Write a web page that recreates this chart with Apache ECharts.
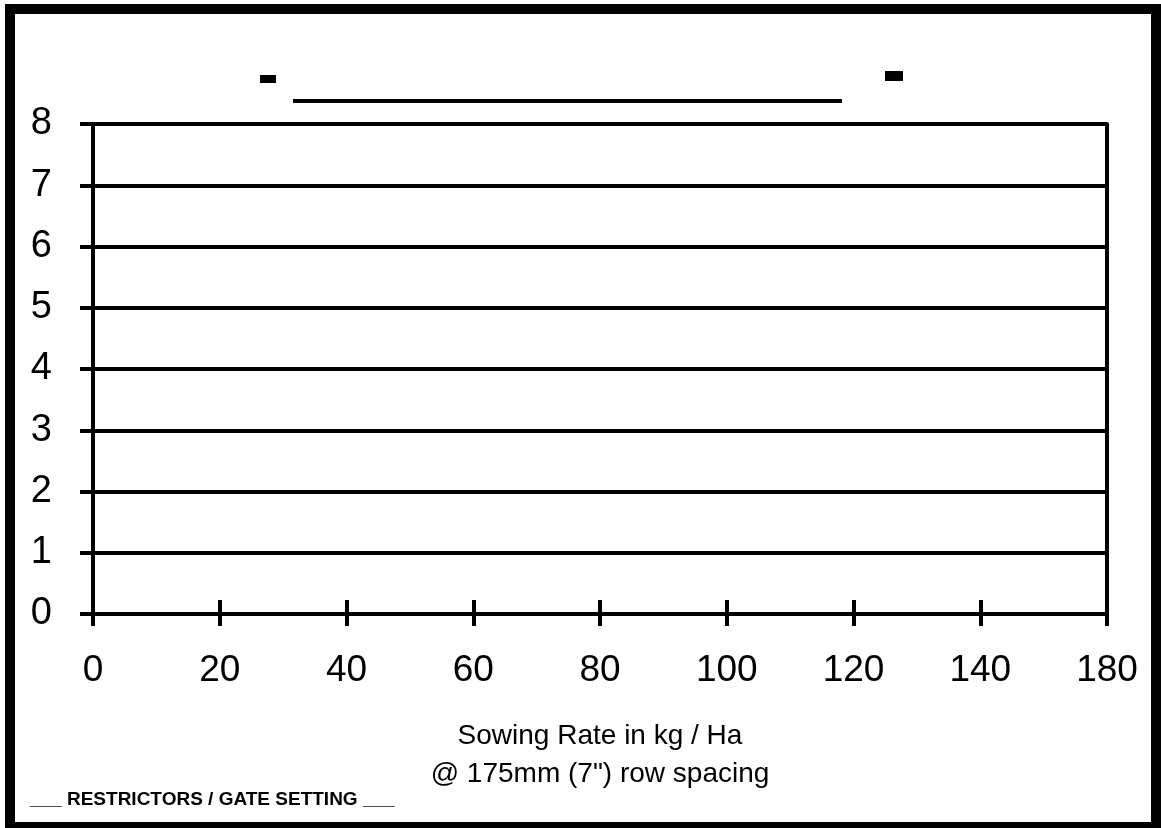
<!DOCTYPE html>
<html>
<head>
<meta charset="utf-8">
<script src="https://cdn.jsdelivr.net/npm/echarts@6/dist/echarts.min.js"></script>
<style>
  html, body { margin: 0; padding: 0; background: #fff; }
  #chart { width: 1161px; height: 828px; }
</style>
</head>
<body>
<div id="chart"></div>
<script>
// blank calibration sheet: axes only, no plotted values
const rateLabels = ["0", "20", "40", "60", "80", "100", "120", "140", "180"];
const settingMin = 0;
const settingMax = 8;
const settingStep = 1;
const readings = []; // left empty on the printed form
const axisName = "Sowing Rate in kg / Ha\n@ 175mm (7\") row spacing";
const footNote = "___ RESTRICTORS / GATE SETTING ___";

const font = "Liberation Sans, Arial, sans-serif";
const ink = "#000";

const chart = echarts.init(document.getElementById("chart"));
const option = {
  backgroundColor: "#fff",
  animation: false,
  grid: { left: 93, right: 54, top: 124, bottom: 214 },
  xAxis: [
    {
      type: "category",
      data: rateLabels,
      boundaryGap: false,
      axisLine: { show: true, lineStyle: { color: ink, width: 4 } },
      axisTick: { show: true, length: 12, lineStyle: { color: ink, width: 4 } },
      axisLabel: { color: ink, fontSize: 37, fontFamily: font, margin: 38, interval: 0 },
      splitLine: { show: false },
      name: axisName,
      nameLocation: "middle",
      nameGap: 103,
      nameTextStyle: { color: ink, fontSize: 28, fontFamily: font, lineHeight: 38 },
    },
    {
      type: "category",
      data: rateLabels,
      boundaryGap: false,
      position: "bottom",
      axisLine: { show: false },
      axisTick: { show: true, inside: true, length: 14, lineStyle: { color: ink, width: 4 } },
      axisLabel: { show: false },
      splitLine: { show: false },
    },
  ],
  yAxis: [
    {
      type: "value",
      min: settingMin,
      max: settingMax,
      interval: settingStep,
      axisLine: { show: true, lineStyle: { color: ink, width: 4 } },
      axisTick: { show: true, length: 13, lineStyle: { color: ink, width: 4 } },
      axisLabel: { color: ink, fontSize: 38, fontFamily: font, margin: 41, padding: [8, 0, 0, 0] },
      splitLine: { show: true, showMinLine: true, showMaxLine: true, lineStyle: { color: ink, width: 4 } },
    },
    {
      type: "value",
      position: "right",
      min: settingMin,
      max: settingMax,
      interval: settingStep,
      axisLine: { show: true, lineStyle: { color: ink, width: 4 } },
      axisTick: { show: false },
      axisLabel: { show: false },
      splitLine: { show: false },
    },
  ],
  series: [
    { type: "line", xAxisIndex: 0, yAxisIndex: 0, data: readings, symbol: "none" },
  ],
  graphic: [
    {
      type: "rect",
      shape: { x: 10, y: 9, width: 1146, height: 818 },
      style: { fill: null, stroke: ink, lineWidth: 10 },
      silent: true,
    },
    // remains of the blanked-out title
    { type: "rect", shape: { x: 260, y: 75, width: 16, height: 8 }, style: { fill: ink } },
    { type: "rect", shape: { x: 293, y: 99, width: 549, height: 4 }, style: { fill: ink } },
    { type: "rect", shape: { x: 885, y: 71, width: 18, height: 10 }, style: { fill: ink } },
    {
      type: "text",
      left: 30,
      top: 790,
      style: { text: footNote, fill: ink, font: "bold 19px " + font },
    },
  ],
};
chart.setOption(option);
</script>
</body>
</html>
